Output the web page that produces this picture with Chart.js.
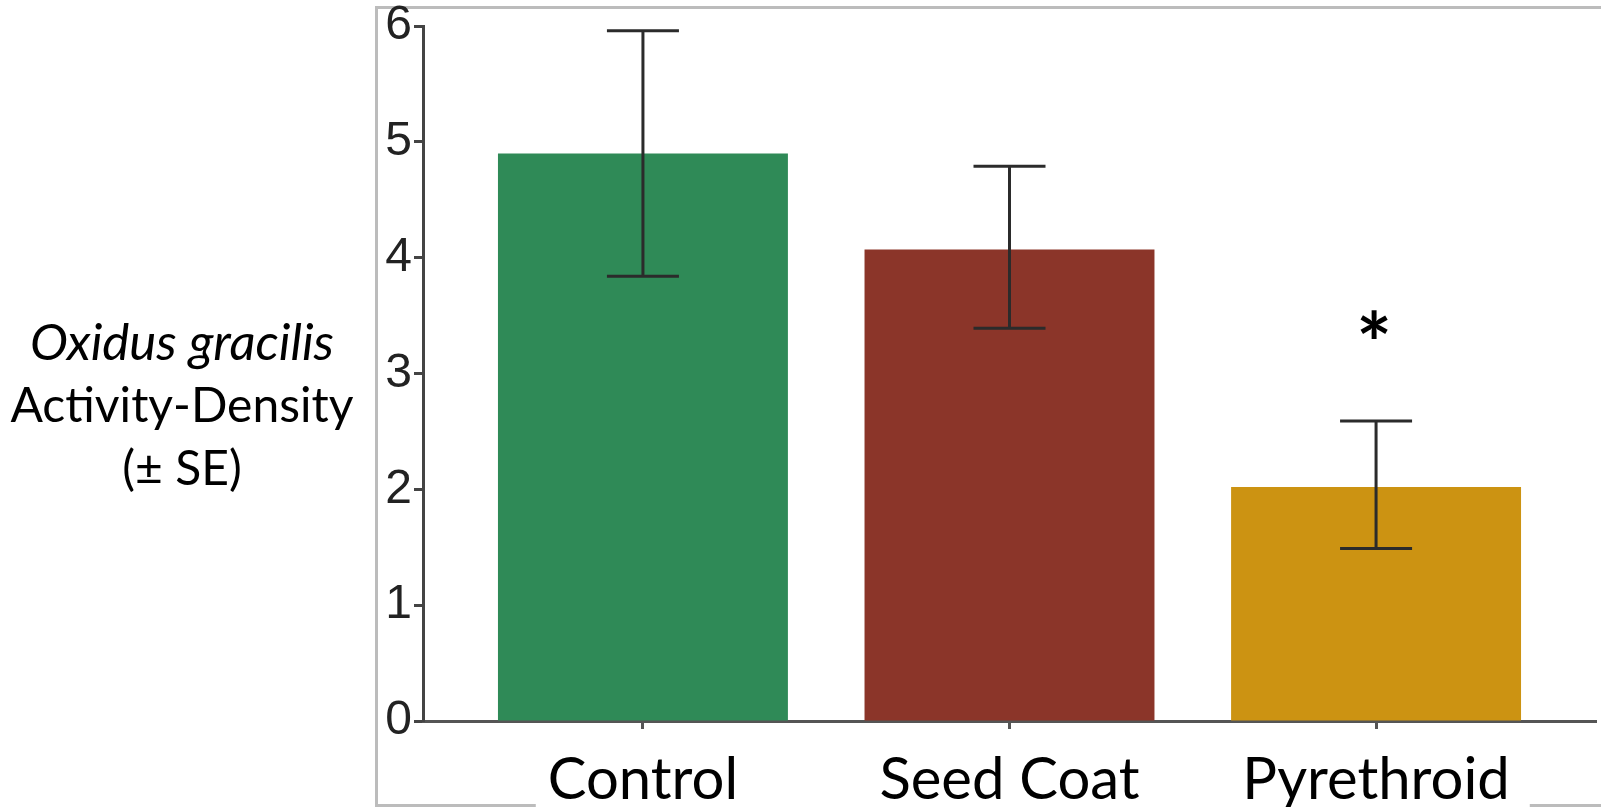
<!DOCTYPE html>
<html>
<head>
<meta charset="utf-8">
<script src="https://cdn.jsdelivr.net/npm/chart.js@4.4.1/dist/chart.umd.min.js"></script>
<style>
  html, body { margin: 0; padding: 0; background: #fff; }
  #wrap { width: 1601px; height: 807px; }
</style>
</head>
<body>
<div id="wrap"><canvas id="myChart" width="1601" height="807"></canvas></div>
<script>
// values
let categories = ['Control', 'Seed Coat', 'Pyrethroid'];
let means = [4.90, 4.07, 2.02];
let errLow = [3.84, 3.39, 1.49];
let errHigh = [5.96, 4.79, 2.59];
let sigMarks = ['', '', '*'];
let yTicks = [0, 1, 2, 3, 4, 5, 6];
let titleLines = ['Oxidus gracilis', 'Activity-Density', '(± SE)'];
let barColors = ['#2f8a57', '#8b3529', '#cc9312'];

let labelFont = 'Lato, "Open Sans", sans-serif';

// grey frame around the plot
const framePlugin = {
    id: 'frame',
    beforeDraw(chart) {
        const ctx = chart.ctx;
        const xs = chart.scales.x;
        ctx.save();
        ctx.strokeStyle = '#bcbcbc';
        ctx.lineWidth = 3;
        ctx.beginPath();
        ctx.moveTo(1601, 7.5);
        ctx.lineTo(376.5, 7.5);
        ctx.lineTo(376.5, 805.5);
        // bottom edge is hidden behind the category labels
        ctx.font = '58px ' + labelFont;
        let firstW = ctx.measureText(categories[0]).width;
        let lastW = ctx.measureText(categories[categories.length - 1]).width;
        let gapL = xs.getPixelForValue(0) - firstW / 2 - 12;
        let gapR = xs.getPixelForValue(categories.length - 1) + lastW / 2 + 20;
        ctx.lineTo(gapL, 805.5);
        ctx.moveTo(gapR, 805.5);
        ctx.lineTo(1601, 805.5);
        ctx.stroke();
        ctx.restore();
    }
};

// error bars, asterisk and the horizontal axis title
const extrasPlugin = {
    id: 'extras',
    afterDatasetsDraw(chart) {
        const ctx = chart.ctx;
        const xs = chart.scales.x;
        const ys = chart.scales.y;
        ctx.save();
        ctx.strokeStyle = '#2b2b2b';
        ctx.lineWidth = 3;
        categories.forEach((c, i) => {
            let x = xs.getPixelForValue(i);
            let yLo = ys.getPixelForValue(errLow[i]);
            let yHi = ys.getPixelForValue(errHigh[i]);
            ctx.beginPath();
            ctx.moveTo(x, yLo);
            ctx.lineTo(x, yHi);
            ctx.moveTo(x - 36, yHi);
            ctx.lineTo(x + 36, yHi);
            ctx.moveTo(x - 36, yLo);
            ctx.lineTo(x + 36, yLo);
            ctx.stroke();

            if (sigMarks[i]) {
                ctx.fillStyle = '#000';
                ctx.font = 'bold 84px ' + labelFont;
                ctx.textAlign = 'center';
                let m = ctx.measureText(sigMarks[i]);
                let mid = (m.actualBoundingBoxAscent - m.actualBoundingBoxDescent) / 2;
                ctx.textBaseline = 'alphabetic';
                ctx.fillText(sigMarks[i], x - 2, yHi - 96 + mid);
            }
        });

        ctx.fillStyle = '#000';
        ctx.textAlign = 'center';
        ctx.textBaseline = 'middle';
        titleLines.forEach((t, k) => {
            ctx.font = (k == 0 ? 'italic 51px ' : '48px ') + labelFont;
            ctx.fillText(t, 182, 344 + k * 63);
        });
        ctx.restore();
    }
};

const myChart = new Chart(document.getElementById('myChart'), {
    type: 'bar',
    data: {
        datasets: [{
            label: 'Activity-Density',
            data: categories.map((c, i) => ({ x: i, y: means[i] })),
            backgroundColor: barColors,
            borderWidth: 0,
            barPercentage: 0.791,
            categoryPercentage: 1
        }]
    },
    options: {
        responsive: false,
        animation: false,
        layout: { padding: { top: 26, right: 5, left: 0, bottom: 0 } },
        plugins: {
            legend: { display: false },
            tooltip: { enabled: false }
        },
        scales: {
            x: {
                type: 'linear',
                offset: false,
                min: -0.6,
                max: categories.length - 0.4,
                afterBuildTicks: (scale) => {
                    scale.ticks = categories.map((c, i) => ({ value: i }));
                },
                afterFit: (scale) => { scale.height = 86; },
                ticks: {
                    callback: (v) => categories[v],
                    font: { family: labelFont, size: 58, lineHeight: 1 },
                    color: '#000',
                    padding: 22,
                    maxRotation: 0,
                    autoSkip: false
                },
                grid: {
                    offset: false,
                    drawOnChartArea: false,
                    tickLength: 8,
                    tickWidth: 3,
                    tickColor: '#555'
                },
                border: { color: '#555', width: 3 }
            },
            y: {
                min: 0,
                max: 6,
                afterBuildTicks: (scale) => {
                    scale.ticks = yTicks.map(v => ({ value: v }));
                },
                afterFit: (scale) => { scale.width = 423; },
                ticks: {
                    font: { family: '"Liberation Sans", Arial, sans-serif', size: 48, lineHeight: 1 },
                    color: '#222',
                    padding: 2
                },
                grid: {
                    drawOnChartArea: false,
                    tickLength: 9,
                    tickWidth: 3,
                    tickColor: '#444'
                },
                border: { color: '#444', width: 3 }
            }
        }
    },
    plugins: [framePlugin, extrasPlugin]
});
</script>
</body>
</html>
